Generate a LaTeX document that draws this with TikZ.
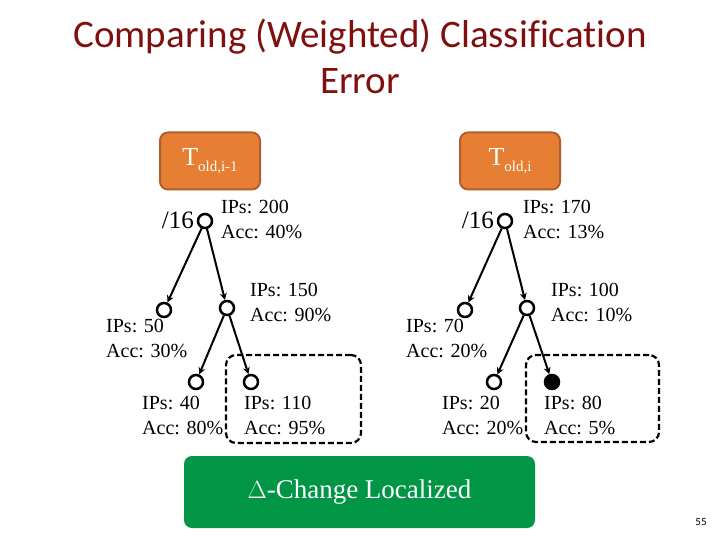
\documentclass[tikz,border=0pt]{standalone}
\usepackage{fontspec}
\setmainfont{Liberation Serif}
\newfontfamily\titlefont[Ligatures=NoCommon]{Carlito}
\usetikzlibrary{arrows.meta}
\definecolor{titlered}{RGB}{128,16,16}
\definecolor{boxorange}{RGB}{230,126,52}
\definecolor{boxedge}{RGB}{175,95,45}
\definecolor{boxgreen}{RGB}{0,150,70}
\begin{document}
\begin{tikzpicture}[x=1pt,y=-1pt,
  treenode/.style={circle, draw, line width=2.5pt, minimum size=14pt, inner sep=0pt},
  leafon/.style={treenode, fill=black},
  edge/.style={line width=2pt, -{Stealth[length=7pt,width=7pt]}},
  info/.style={font=\fontsize{20}{25}\selectfont, align=left, inner sep=0pt, anchor=west},
  rootlbl/.style={font=\fontsize{25}{28}\selectfont, inner sep=0pt, anchor=east},
  tbox/.style={rounded corners=8pt, fill=boxorange, draw=boxedge, line width=2pt,
    minimum width=100pt, minimum height=57pt, text=white!95!yellow, inner sep=0pt},
  dashbox/.style={draw, line width=2.2pt, dash pattern=on 6pt off 3pt, rounded corners=10pt, inner sep=0pt},
  greenbox/.style={rounded corners=8pt, fill=boxgreen, minimum width=351pt, minimum height=72pt,
    text=white, font=\fontsize{27}{30}\selectfont, inner sep=0pt}
]
\useasboundingbox[fill=white] (0,0) rectangle (720,540);

% title
\node[font=\titlefont\fontsize{39}{46}\selectfont, text=titlered, align=center] (title) at (360,56)
  {Comparing (Weighted) Classification\\Error};

% orange boxes
\node[tbox] (boxL) at (210,161) {\fontsize{26}{28}\selectfont T\raisebox{-6pt}{\fontsize{15}{16}\selectfont old,i-1}};
\node[tbox] (boxR) at (510,161) {\fontsize{26}{28}\selectfont T\raisebox{-6pt}{\fontsize{15}{16}\selectfont old,i}};

% dashed boxes
\node[dashbox, minimum width=135pt, minimum height=88pt] (dashL) at (293.5,399) {};
\node[dashbox, minimum width=133pt, minimum height=87pt] (dashR) at (592.5,398.5) {};

% left tree
\node[treenode] (lr) at (205,221) {};
\node[treenode] (ll) at (164,310) {};
\node[treenode] (lm) at (227,308) {};
\node[treenode] (lml) at (196,382) {};
\node[treenode] (lmr) at (251,382) {};
\draw[edge] (lr) -- (ll);
\draw[edge] (lr) -- (lm);
\draw[edge] (lm) -- (lml);
\draw[edge] (lm) -- (lmr);
\node[rootlbl] (lslash) at (194,220) {/16};
\node[info] (lrt) at (221,219) {IPs: 200\\Acc: 40\%};
\node[info] (llt) at (106,338) {IPs: 50\\Acc: 30\%};
\node[info] (lmt) at (250,302) {IPs: 150\\Acc: 90\%};
\node[info] (lmlt) at (142,415) {IPs: 40\\Acc: 80\%};
\node[info] (lmrt) at (244,415) {IPs: 110\\Acc: 95\%};

% right tree
\node[treenode] (rr) at (505,221) {};
\node[treenode] (rl) at (465,310) {};
\node[treenode] (rm) at (527,308) {};
\node[treenode] (rml) at (494,382) {};
\node[leafon] (rmr) at (552,382) {};
\draw[edge] (rr) -- (rl);
\draw[edge] (rr) -- (rm);
\draw[edge] (rm) -- (rml);
\draw[edge] (rm) -- (rmr);
\node[rootlbl] (rslash) at (494,220) {/16};
\node[info] (rrt) at (523,219) {IPs: 170\\Acc: 13\%};
\node[info] (rlt) at (406,338) {IPs: 70\\Acc: 20\%};
\node[info] (rmt) at (551,302) {IPs: 100\\Acc: 10\%};
\node[info] (rmlt) at (442,415) {IPs: 20\\Acc: 20\%};
\node[info] (rmrt) at (544,415) {IPs: 80\\Acc: 5\%};

% green box
\node[greenbox] (green) at (359.5,492) {$\Delta$-Change Localized};

% page number
\node[font=\titlefont\fontsize{11}{12}\selectfont, inner sep=0pt] (pnum) at (701,522) {55};
\end{tikzpicture}
\end{document}
